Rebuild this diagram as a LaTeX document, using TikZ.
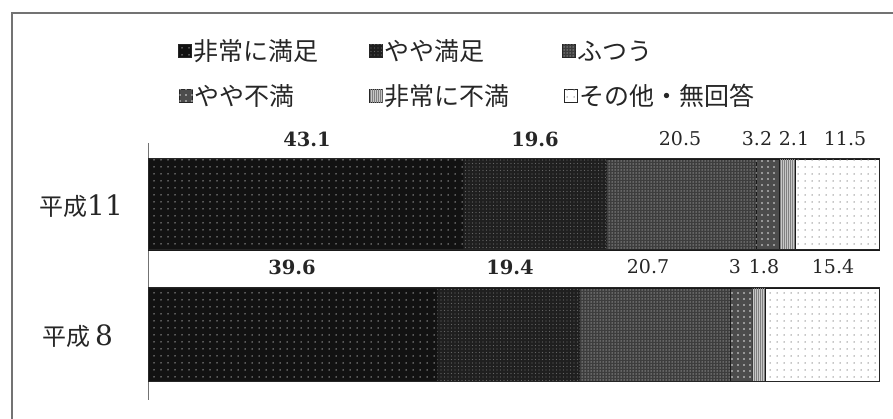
\documentclass[tikz,border=0pt]{standalone}
\usepackage{fontspec}
\newfontfamily\jpfont{Noto Sans CJK JP}
\newfontfamily\numfont{DejaVu Serif}
\usetikzlibrary{positioning,patterns.meta}
\begin{document}
\begin{tikzpicture}
[x=1pt,y=-1pt,%
  catA/.style={fill=black!93,postaction={pattern={Dots[distance=7pt,radius=0.75pt]},pattern color=black!35}},%
  catB/.style={fill=black!88,postaction={pattern={Dots[distance=3.5pt,radius=0.6pt]},pattern color=black!60}},%
  catC/.style={fill=black!76,postaction={pattern={Dots[distance=3pt,radius=0.75pt]},pattern color=black!42}},%
  catD/.style={fill=black!70,postaction={pattern={Dots[distance=6pt,radius=0.9pt]},pattern color=black!10}},%
  catE/.style={fill=black!22,postaction={pattern={Lines[angle=90,distance=2pt,line width=0.6pt]},pattern color=black!50}},%
  catF/.style={fill=white,postaction={pattern={Dots[distance=7pt,radius=0.75pt]},pattern color=black!45}},%
  segDecorate/.style={draw=black!90,line width=0.7pt},%
  barDecorate/.style={draw=black!85,line width=1pt},%
  legendBox/.style={draw=black!85,line width=0.7pt,minimum size=13pt,inner sep=0pt},%
  labelDecorate/.style={font=\jpfont\fontsize{25}{25}\selectfont,text=black!85,inner sep=1pt},%
  catDecorate/.style={font=\jpfont\fontsize{24}{24}\selectfont,text=black!85,inner sep=0pt},%
  valueDecorate/.style={font=\numfont\fontsize{19}{19}\selectfont,text=black!85},%
  valueBold/.style={font=\numfont\bfseries\fontsize{19.5}{19.5}\selectfont,text=black!85}]
\useasboundingbox (0,0) rectangle (893,419);
%% frame and axis
\draw[black!55,line width=1.6pt] (12,419) -- (12,13) -- (893,13);
\draw[black!55,line width=0.8pt] (148,143) -- (148,400);
%% legend
\foreach \nodename/\x/\y/\catstyle/\text in {
  A/185/51/catA/非常に満足, B/376/51/catB/やや満足, C/569/51/catC/ふつう,
  D/186/96/catD/やや不満, E/376/96/catE/非常に不満, F/571/96/catF/その他・無回答}
{
  \node (key\nodename) at (\x,\y) [legendBox,\catstyle] {};
  \node (text\nodename) [right=0pt of key\nodename,labelDecorate] {\text};
}
%% bars
\foreach \start/\stop/\catstyle in {
  0/43.1/catA, 43.1/62.7/catB, 62.7/83.2/catC, 83.2/86.4/catD,
  86.4/88.5/catE, 88.5/100/catF}
{
  \path[\catstyle,segDecorate] ({148+7.31*\start},159) rectangle ({148+7.31*\stop},250);
}
\foreach \start/\stop/\catstyle in {
  0/39.6/catA, 39.6/59.0/catB, 59.0/79.7/catC, 79.7/82.7/catD,
  82.7/84.5/catE, 84.5/100/catF}
{
  \path[\catstyle,segDecorate] ({148+7.31*\start},288) rectangle ({148+7.31*\stop},381);
}
\draw[barDecorate] (148,159) rectangle (879,250);
\draw[barDecorate] (148,288) rectangle (879,381);
%% values
\foreach \nodename/\x/\y/\valstyle/\val in {
  h11a/307/139/valueBold/43.1, h11b/535/139/valueBold/19.6,
  h11c/680/139/valueDecorate/20.5, h11d/757/139/valueDecorate/3.2,
  h11e/794/139/valueDecorate/2.1, h11f/845/139/valueDecorate/11.5,
  h8a/292/267/valueBold/39.6, h8b/510/267/valueBold/19.4,
  h8c/648/267/valueDecorate/20.7, h8d/735/267/valueDecorate/3,
  h8e/764/267/valueDecorate/1.8, h8f/833/267/valueDecorate/15.4}
{
  \node (\nodename) at (\x,\y) [\valstyle] {\val};
}
%% categories
\node (h11) at (39,206) [catDecorate,anchor=west] {平成{\numfont\fontsize{28}{28}\selectfont 11}};
\node (h8) at (42,336) [catDecorate,anchor=west] {平成\hspace{5pt}{\numfont\fontsize{28}{28}\selectfont 8}};
\end{tikzpicture}
\end{document}
